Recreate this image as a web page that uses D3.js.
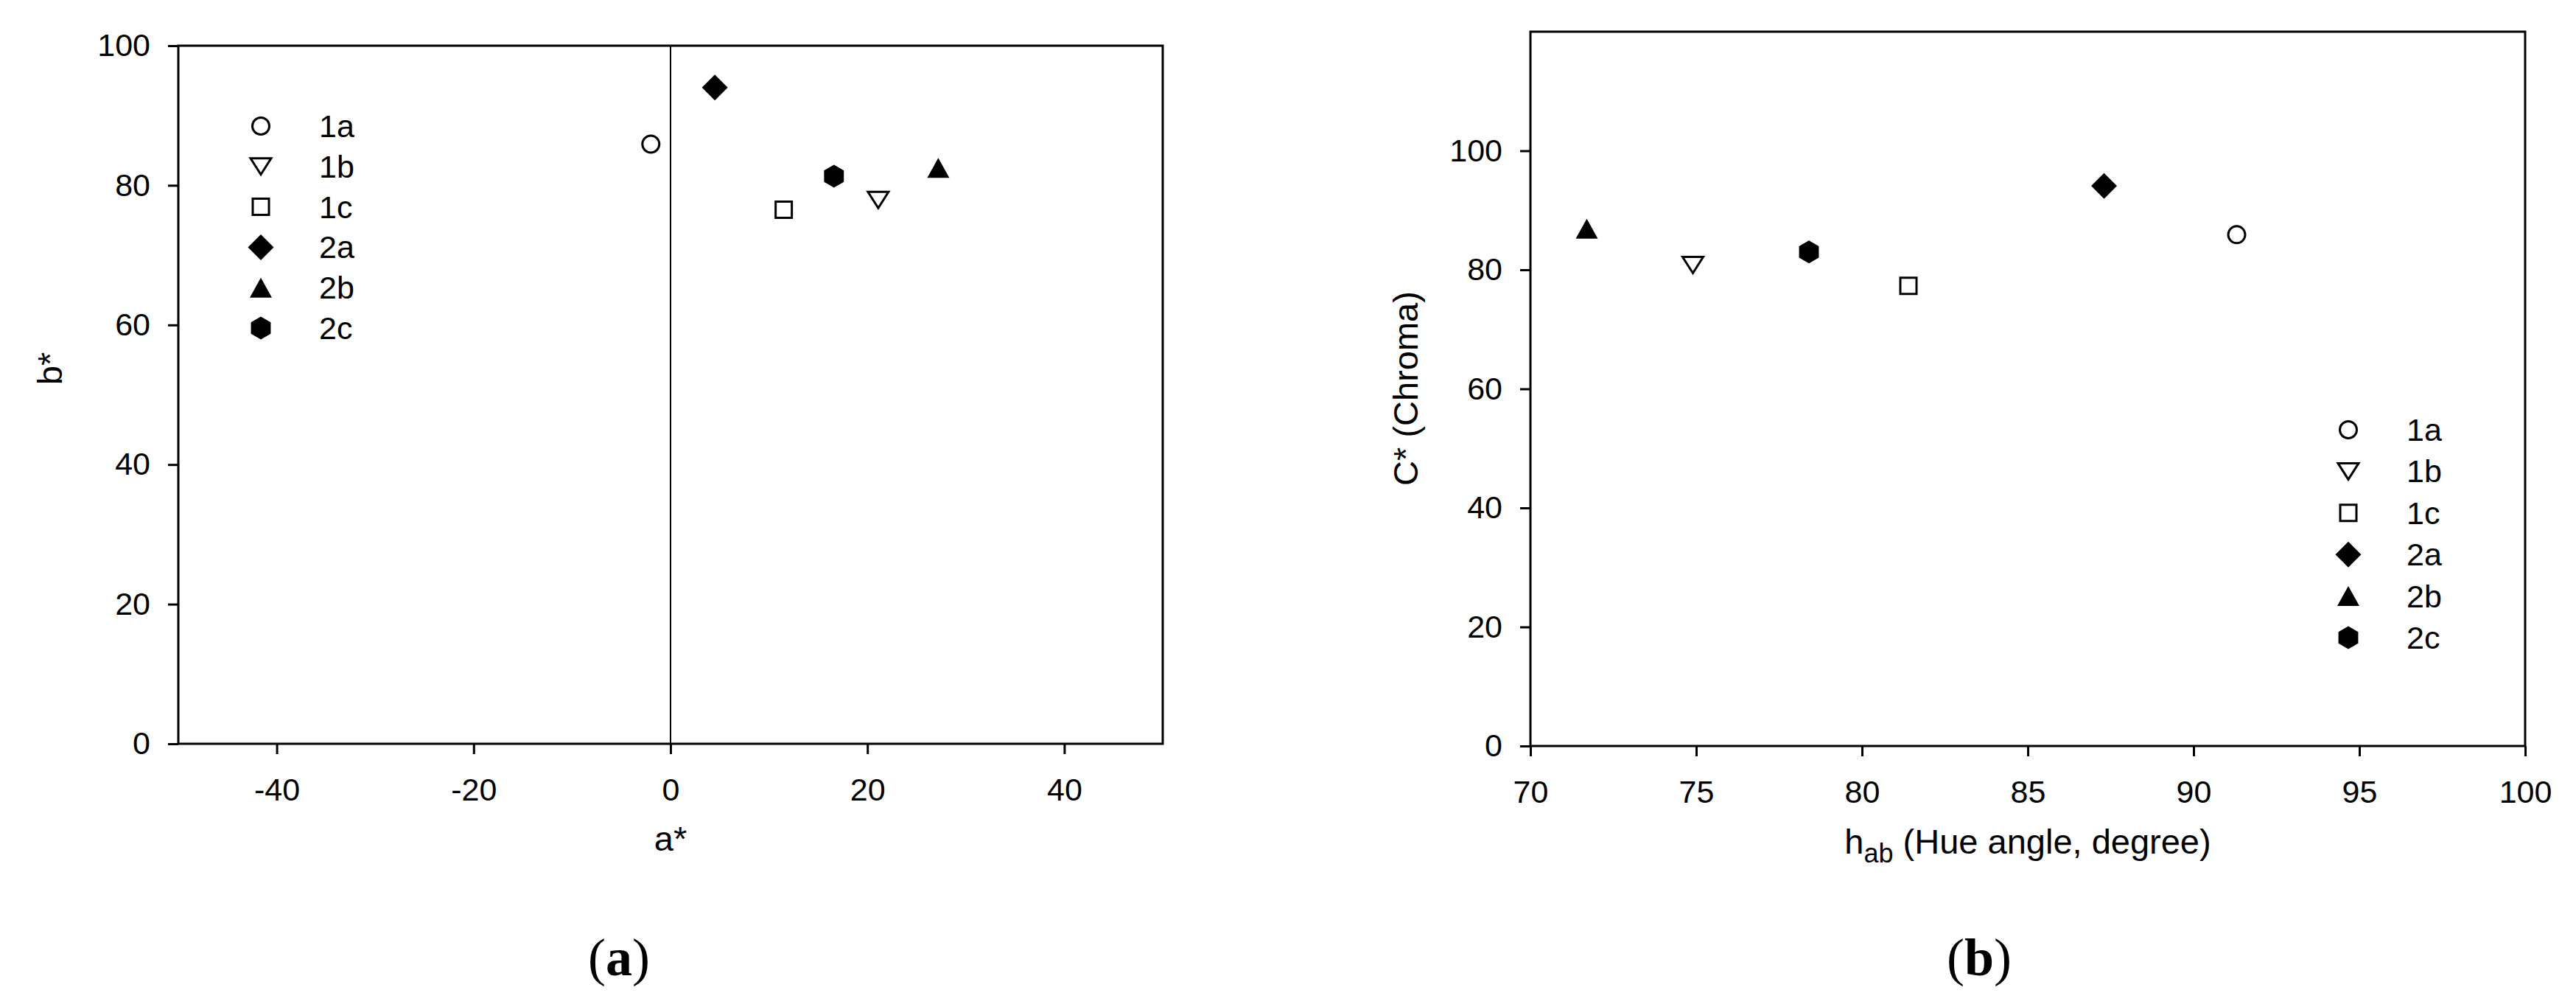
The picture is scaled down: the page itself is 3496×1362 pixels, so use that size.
<!DOCTYPE html>
<html>
<head>
<meta charset="utf-8">
<script src="https://cdn.jsdelivr.net/npm/d3@7"></script>
<style>
  body { margin: 0; background: #fff; }
  text { font-family: "Liberation Sans", Arial, sans-serif; fill: #000; }
  .tick line { stroke: #000; stroke-width: 3; }
  .tick text { font-size: 43px; }
  .axis-title { font-size: 47px; }
  .legend-label { font-size: 43px; }
  .panel-label { font-family: "Liberation Serif", "Times New Roman", serif; font-size: 72px; }
</style>
</head>
<body>
<div id="chart"></div>
<script>
/*
*    CIELAB colour coordinates (a) and hue angle vs chroma (b)
*/

var samples = ["1a", "1b", "1c", "2a", "2b", "2c"];

// panel (a)
var aStar = [-2.0, 21.1, 11.5, 4.5, 27.2, 16.6];
var bStar = [85.9, 77.9, 76.5, 94.0, 82.5, 81.3];
var aTicks = [-40, -20, 0, 20, 40];
var bTicks = [0, 20, 40, 60, 80, 100];

// panel (b)
var hueAngle = [91.3, 74.9, 81.4, 87.3, 71.7, 78.4];
var chroma = [85.9, 80.8, 77.3, 94.1, 86.9, 83.0];
var hueTicks = [70, 75, 80, 85, 90, 95, 100];
var chromaTicks = [0, 20, 40, 60, 80, 100];

// marker look per sample
var markerShape = { "1a": "circle", "1b": "triangleDown", "1c": "square",
                    "2a": "diamond", "2b": "triangleUp", "2c": "hexagon" };
var markerFilled = { "1a": false, "1b": false, "1c": false,
                     "2a": true, "2b": true, "2c": true };

var svg = d3.select("#chart")
    .append("svg")
    .attr("width", 3496)
    .attr("height", 1362);

function markerPath(shape) {
    var p = d3.path();
    if (shape == "circle") {
        p.arc(0, 0, 11.5, 0, 2 * Math.PI);
    } else if (shape == "square") {
        p.rect(-11, -11, 22, 22);
    } else if (shape == "triangleDown") {
        p.moveTo(-14, -11); p.lineTo(14, -11); p.lineTo(0, 11); p.closePath();
    } else if (shape == "triangleUp") {
        p.moveTo(0, -13.5); p.lineTo(15, 13.5); p.lineTo(-15, 13.5); p.closePath();
    } else if (shape == "diamond") {
        p.moveTo(0, -17.5); p.lineTo(17.5, 0); p.lineTo(0, 17.5); p.lineTo(-17.5, 0); p.closePath();
    } else if (shape == "hexagon") {
        for (var k = 0; k < 6; k++) {
            var ang = Math.PI / 3 * k - Math.PI / 2;
            var px = 15.5 * Math.cos(ang), py = 15.5 * Math.sin(ang);
            if (k == 0) p.moveTo(px, py); else p.lineTo(px, py);
        }
        p.closePath();
    }
    return p.toString();
}

function drawMarker(sel, name) {
    sel.append("path")
        .attr("d", markerPath(markerShape[name]))
        .style("fill", markerFilled[name] ? "#000" : "#fff")
        .style("stroke", "#000")
        .style("stroke-width", markerFilled[name] ? 0 : 3);
}

// plain hyphen for negatives, like the original
var plainFmt = function(d){ return String(d); };

ScatterPanel = function(_cfg){
    this.cfg = _cfg;
    this.initVis();
};

ScatterPanel.prototype.initVis = function(){
    var vis = this;
    var c = vis.cfg;

    vis.x = d3.scaleLinear().domain(c.xDomain).range([c.left, c.right]);
    vis.y = d3.scaleLinear().domain(c.yDomain).range([c.bottom, c.top]);

    vis.g = svg.append("g");

    vis.g.append("g")
        .attr("transform", "translate(0," + c.bottom + ")")
        .call(d3.axisBottom(vis.x).tickValues(c.xTicks).tickFormat(plainFmt)
            .tickSize(14).tickSizeOuter(0).tickPadding(32))
        .call(function(g){ g.select(".domain").remove(); });

    vis.g.append("g")
        .attr("transform", "translate(" + c.left + ",0)")
        .call(d3.axisLeft(vis.y).tickValues(c.yTicks).tickFormat(plainFmt)
            .tickSize(14).tickSizeOuter(0).tickPadding(24))
        .call(function(g){ g.select(".domain").remove(); });

    vis.g.selectAll(".tick text").attr("font-family", null);

    if (c.zeroLine) {
        vis.g.append("line")
            .attr("x1", vis.x(0)).attr("x2", vis.x(0))
            .attr("y1", c.top).attr("y2", c.bottom)
            .style("stroke", "#000")
            .style("stroke-width", 2);
    }

    // frame
    vis.g.append("rect")
        .attr("x", c.left).attr("y", c.top)
        .attr("width", c.right - c.left)
        .attr("height", c.bottom - c.top)
        .style("fill", "none")
        .style("stroke", "#000")
        .style("stroke-width", 3);

    // points
    vis.g.selectAll(".pt")
        .data(samples)
        .enter().append("g")
        .attr("class", "pt")
        .attr("transform", function(d, i){ return "translate(" + vis.x(c.xs[i]) + "," + vis.y(c.ys[i]) + ")"; })
        .each(function(d){ drawMarker(d3.select(this), d); });

    // legend
    var leg = vis.g.selectAll(".leg")
        .data(samples)
        .enter().append("g")
        .attr("class", "leg")
        .attr("transform", function(d, i){ return "translate(" + c.legX + "," + (c.legY + i * c.legStep) + ")"; });
    leg.each(function(d){ drawMarker(d3.select(this), d); });
    leg.append("text")
        .attr("class", "legend-label")
        .attr("x", 79)
        .attr("dy", "0.35em")
        .text(function(d){ return d; });

    // axis titles
    var xt = vis.g.append("text")
        .attr("class", "axis-title")
        .attr("x", (c.left + c.right) / 2)
        .attr("y", c.xTitleY)
        .attr("dy", "0.35em")
        .attr("text-anchor", "middle");
    c.xTitle(xt);

    vis.g.append("text")
        .attr("class", "axis-title")
        .attr("transform", "translate(" + c.yTitleX + "," + c.yTitleY + ") rotate(-90)")
        .attr("dy", "0.35em")
        .attr("text-anchor", "middle")
        .text(c.yTitle);

    var pl = vis.g.append("text")
        .attr("class", "panel-label")
        .attr("x", c.labelX)
        .attr("y", 1298)
        .attr("dy", "0.35em")
        .attr("text-anchor", "middle");
    pl.append("tspan").text("(");
    pl.append("tspan").style("font-weight", "bold").text(c.label);
    pl.append("tspan").text(")");
};

new ScatterPanel({
    left: 242, right: 1578, top: 62, bottom: 1009,
    xDomain: [-50, 50], yDomain: [0, 100],
    xTicks: aTicks, yTicks: bTicks,
    xs: aStar, ys: bStar,
    zeroLine: true,
    legX: 354, legY: 171, legStep: 54.8,
    xTitleY: 1138,
    xTitle: function(t){ t.text("a*"); },
    yTitleX: 68, yTitleY: 500, yTitle: "b*",
    labelX: 840, label: "a"
});

new ScatterPanel({
    left: 2077, right: 3427, top: 43, bottom: 1012,
    xDomain: [70, 100], yDomain: [0, 120],
    xTicks: hueTicks, yTicks: chromaTicks,
    xs: hueAngle, ys: chroma,
    zeroLine: false,
    legX: 3187, legY: 583, legStep: 56.4,
    xTitleY: 1142,
    xTitle: function(t){
        t.append("tspan").text("h");
        t.append("tspan").style("font-size", "36px").attr("dy", 12).text("ab");
        t.append("tspan").attr("dy", -12).text(" (Hue angle, degree)");
    },
    yTitleX: 1908, yTitleY: 527, yTitle: "C* (Chroma)",
    labelX: 2686, label: "b"
});
</script>
</body>
</html>
